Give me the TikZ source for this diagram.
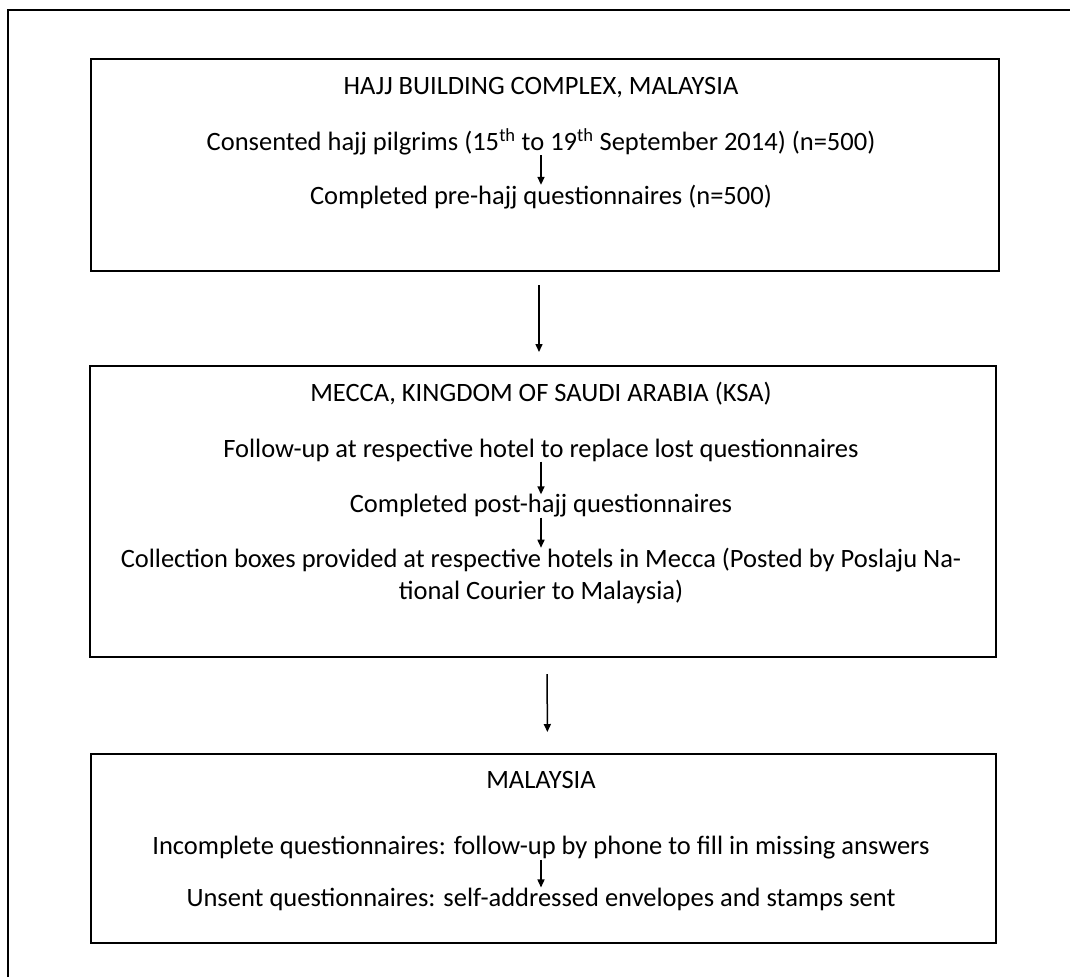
\documentclass[tikz,border=0pt]{standalone}
\usepackage{fontspec}
\setmainfont{Carlito}
\usetikzlibrary{arrows.meta,positioning}

\begin{document}
\begin{tikzpicture}[x=1pt, y=-1pt]
\tikzstyle{boxr}=[rectangle, draw=black, line width=2pt, inner sep=0pt, anchor=north west]
\tikzstyle{txt}=[inner sep=0pt, font=\fontsize{26.5}{32.5}\selectfont, align=center]
\tikzstyle{drawstyle}=[line width=1.5pt, -{Triangle[width=7pt,length=8pt]}]

\useasboundingbox (0,0) rectangle (1070,977);
\coordinate (FR0) at (8,977);
\coordinate (FR1) at (8,10);
\coordinate (FR2) at (1070,10);
\draw[line width=1.6pt] (FR0) -- (FR1) -- (FR2);

% Hajj building complex
\node[boxr, minimum width=908pt, minimum height=212pt] (B1) at (90,58) {};
\node[txt] (T1) at (541,88) {HAJJ BUILDING COMPLEX, MALAYSIA};
\node[txt] (T2) at (541,142) {Consented hajj pilgrims (15\textsuperscript{th} to 19\textsuperscript{th} September 2014) (n=500)};
\node[txt] (T3) at (541,197) {Completed pre-hajj questionnaires (n=500)};
\draw[drawstyle] (T2) -- (T3);

% Mecca
\node[boxr, minimum width=906pt, minimum height=291pt] (B2) at (89,365) {};
\node[txt] (M1) at (541,394) {MECCA, KINGDOM OF SAUDI ARABIA (KSA)};
\node[txt] (M2) at (541,450) {Follow-up at respective hotel to replace lost questionnaires};
\node[txt] (M3) at (541,506) {Completed post-hajj questionnaires};
\node[txt] (M4) at (541,576) {Collection boxes provided at respective hotels in Mecca (Posted by Poslaju Na-\\tional Courier to Malaysia)};
\draw[drawstyle] (M2) -- (M3);
\draw[drawstyle] (M3) -- (M4);

% Malaysia
\node[boxr, minimum width=905pt, minimum height=189pt] (B3) at (90,753) {};
\node[txt] (S1) at (541,780) {MALAYSIA};
\node[txt] (S2) at (541,848) {Incomplete questionnaires: follow-up by phone to fill in missing answers};
\node[txt] (S3) at (541,899) {Unsent questionnaires: self-addressed envelopes and stamps sent};
\draw[drawstyle] (S2) -- (S3);

\draw[drawstyle, shorten <=13pt, shorten >=13pt] ([xshift=-6pt]B1.south) -- ([xshift=-4pt]B2.north);
\draw[drawstyle, shorten <=16pt, shorten >=21pt] ([xshift=4pt]B2.south) -- ([xshift=4pt]B3.north);
\end{tikzpicture}
\end{document}
